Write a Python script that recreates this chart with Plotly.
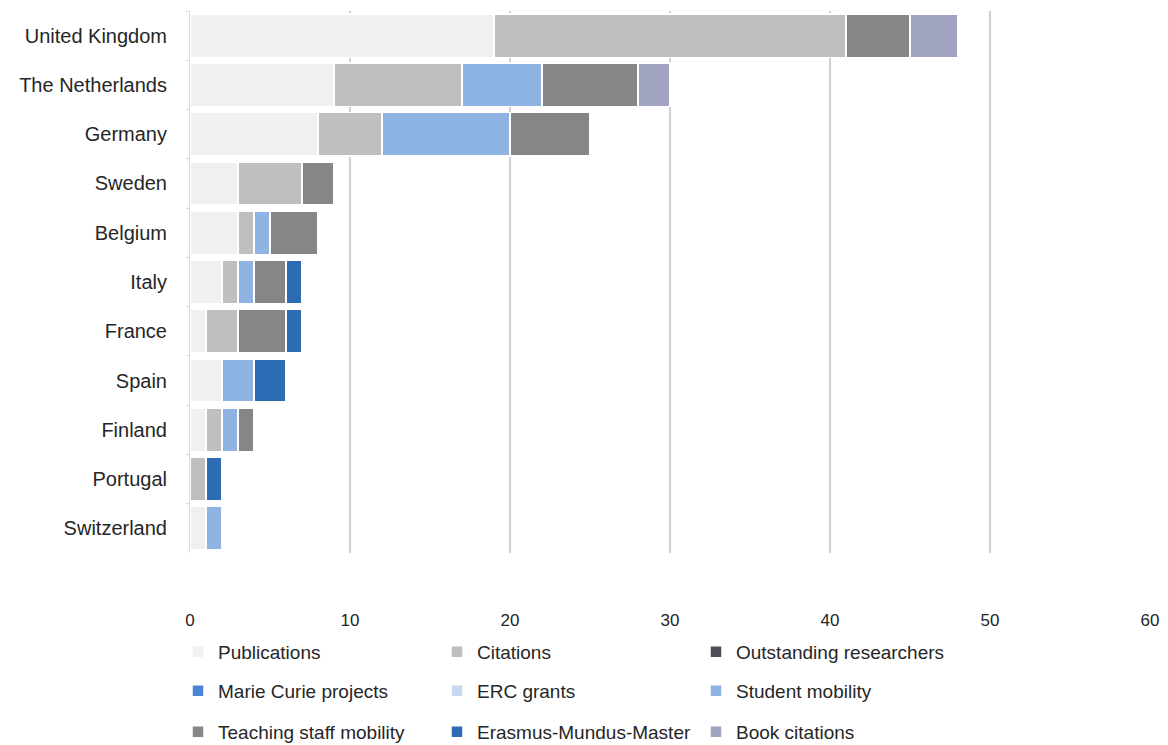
import plotly.graph_objects as go

countries = ["United Kingdom", "The Netherlands", "Germany", "Sweden", "Belgium",
             "Italy", "France", "Spain", "Finland", "Portugal", "Switzerland"]

publications            = [19, 9, 8, 3, 3, 2, 1, 2, 1, 0, 1]
citations               = [22, 8, 4, 4, 1, 1, 2, 0, 1, 1, 0]
outstanding_researchers = [0, 0, 0, 0, 0, 0, 0, 0, 0, 0, 0]
marie_curie_projects    = [0, 0, 0, 0, 0, 0, 0, 0, 0, 0, 0]
erc_grants              = [0, 0, 0, 0, 0, 0, 0, 0, 0, 0, 0]
student_mobility        = [0, 5, 8, 0, 1, 1, 0, 2, 1, 0, 1]
teaching_staff_mobility = [4, 6, 5, 2, 3, 2, 3, 0, 1, 0, 0]
erasmus_mundus_master   = [0, 0, 0, 0, 0, 1, 1, 2, 0, 1, 0]
book_citations          = [3, 2, 0, 0, 0, 0, 0, 0, 0, 0, 0]

x_ticks = [0, 10, 20, 30, 40, 50, 60]

series = [
    ("Publications", publications, "#F0F0F0", "legend"),
    ("Citations", citations, "#BFBFBF", "legend"),
    ("Outstanding researchers", outstanding_researchers, "#4B4D57", "legend"),
    ("Marie Curie projects", marie_curie_projects, "#4A86D4", "legend2"),
    ("ERC grants", erc_grants, "#C6D9F1", "legend2"),
    ("Student mobility", student_mobility, "#8EB4E3", "legend2"),
    ("Teaching staff mobility", teaching_staff_mobility, "#868686", "legend3"),
    ("Erasmus-Mundus-Master", erasmus_mundus_master, "#2E6BB5", "legend3"),
    ("Book citations", book_citations, "#A0A4C0", "legend3"),
]

FONT = "Liberation Sans, Arial, sans-serif"

fig = go.Figure()
for name, vals, color, lg in series:
    fig.add_trace(go.Bar(
        y=countries,
        x=[v if v else None for v in vals],
        name=name,
        orientation="h",
        marker=dict(color=color, line=dict(color="white", width=1.5)),
        legend=lg,
    ))

# the page body adds an 8px offset, so the figure is sized to fill the rest
W, H = 1160, 737
L, R, T, B = 182, 18, 3, 192
pw = W - L - R
ph = H - T - B

def legend_cfg(ypx):
    return dict(
        orientation="h",
        x=(170 - L) / pw,
        xanchor="left",
        y=-(ypx - (H - B)) / ph,
        yanchor="middle",
        traceorder="normal",
        entrywidth=214,
        font=dict(family=FONT, size=19, color="#262626"),
        bgcolor="rgba(0,0,0,0)",
        itemclick=False,
    )

fig.update_layout(
    width=W, height=H,
    margin=dict(l=L, r=R, t=T, b=B, pad=0, autoexpand=False),
    barmode="stack",
    bargap=0.12,
    plot_bgcolor="white",
    paper_bgcolor="white",
    font=dict(family=FONT, color="#262626"),
    showlegend=True,
    legend=legend_cfg(644),
    legend2=legend_cfg(683),
    legend3=legend_cfg(724),
)

fig.update_xaxes(
    range=[0, 60],
    tickvals=x_ticks,
    showgrid=True,
    gridcolor="#D0D0D8",
    gridwidth=2,
    zeroline=False,
    showline=False,
    ticks="",
    automargin=False,
    ticklabelstandoff=55,
    tickfont=dict(family=FONT, size=17, color="#262626"),
)

fig.update_yaxes(
    autorange="reversed",
    showgrid=False,
    showline=True,
    linecolor="#D9D9D9",
    linewidth=1,
    ticks="outside",
    tickson="boundaries",
    ticklen=3,
    tickcolor="#D9D9D9",
    automargin=False,
    ticklabelstandoff=18,
    tickfont=dict(family=FONT, size=20, color="#262626"),
)

fig.write_html("out.html")
